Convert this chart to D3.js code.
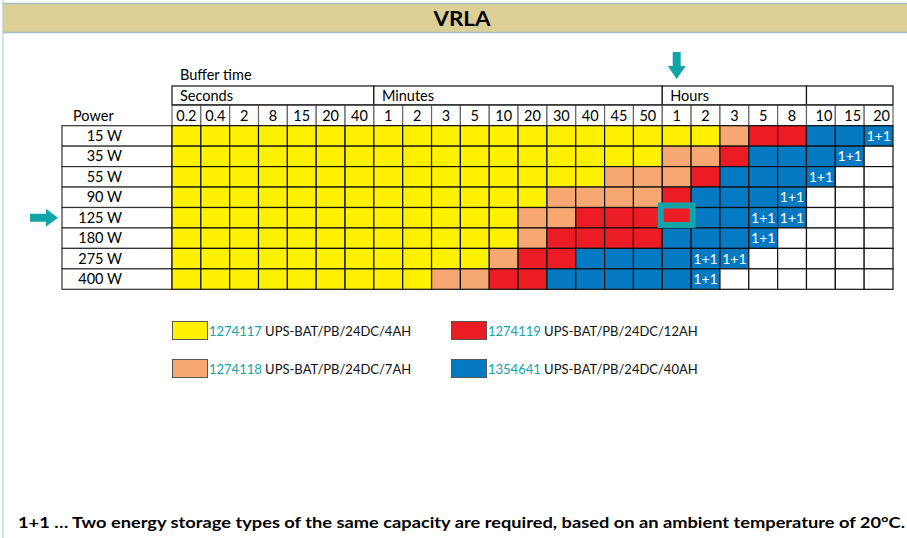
<!DOCTYPE html>
<html>
<head>
<meta charset="utf-8">
<script src="https://cdn.jsdelivr.net/npm/d3@7"></script>
<style>
  body { margin: 0; background: #fff; }
  svg { display: block; font-family: Lato, "Open Sans", sans-serif; }
</style>
</head>
<body>
<div id="chart"></div>
<script>
// battery selection table
const powers = ['15 W', '35 W', '55 W', '90 W', '125 W', '180 W', '275 W', '400 W'];
const groupNames = ['Seconds', 'Minutes', 'Hours', ''];
const groupSizes = [7, 10, 5, 3];
const times = ['0.2', '0.4', '2', '8', '15', '20', '40',
    '1', '2', '3', '5', '10', '20', '30', '40', '45', '50',
    '1', '2', '3', '5', '8',
    '10', '15', '20'];
// Y = 4AH, O = 7AH, R = 12AH, B = 40AH, D = 40AH 1+1, - = none
const cells = [
    'YYYYYYY' + 'YYYYYYYYYY' + 'YYORR' + 'BBD',
    'YYYYYYY' + 'YYYYYYYYYY' + 'OORBB' + 'BD-',
    'YYYYYYY' + 'YYYYYYYYOO' + 'ORBBB' + 'D--',
    'YYYYYYY' + 'YYYYYYOOOO' + 'RBBBD' + '---',
    'YYYYYYY' + 'YYYYYOORRR' + 'RBBDD' + '---',
    'YYYYYYY' + 'YYYYYORRRR' + 'BBBD-' + '---',
    'YYYYYYY' + 'YYYYORRBBB' + 'BDD--' + '---',
    'YYYYYYY' + 'YYOORRBBBB' + 'BD---' + '---'
];
const selectedRow = '125 W';
const selectedCol = 17;

const legendCodes = ['Y', 'R', 'O', 'B'];
const legendNumbers = ['1274117', '1274119', '1274118', '1354641'];
const legendNames = ['UPS-BAT/PB/24DC/4AH', 'UPS-BAT/PB/24DC/12AH', 'UPS-BAT/PB/24DC/7AH', 'UPS-BAT/PB/24DC/40AH'];

const colors = { Y: '#FFF100', O: '#F7A872', R: '#EC1C24', B: '#0579C1', D: '#0579C1', '-': '#ffffff' };
const teal = '#12A5A8';

const W = 907, H = 538;
const svg = d3.select('#chart').append('svg')
    .attr('width', W).attr('height', H);

// page frame + title band
svg.append('rect').attr('x', 3).attr('y', 3).attr('width', W - 3).attr('height', 30)
    .attr('fill', '#DDD096');
svg.append('line').attr('x1', 3).attr('x2', W).attr('y1', 3.5).attr('y2', 3.5)
    .attr('stroke', '#9EBCC2').attr('stroke-width', 1.5);
svg.append('line').attr('x1', 3).attr('x2', W).attr('y1', 32.5).attr('y2', 32.5)
    .attr('stroke', '#9EBCC2').attr('stroke-width', 1.5);
svg.append('line').attr('x1', 3).attr('x2', 3).attr('y1', 0).attr('y2', H)
    .attr('stroke', '#B8CDD3').attr('stroke-width', 1.2);
svg.append('text').attr('x', 462).attr('y', 26)
    .attr('text-anchor', 'middle')
    .attr('font-size', 21).attr('font-weight', 'bold')
    .attr('textLength', 57).attr('lengthAdjust', 'spacingAndGlyphs')
    .text('VRLA');

// scales
const x = d3.scaleBand().domain(d3.range(times.length)).range([172, 893]);
const y = d3.scaleBand().domain(powers).range([125.7, 289.3]);
const groupTop = 86, labelTop = 105;

// group headers (Seconds / Minutes / Hours)
let start = 0;
const groups = groupNames.map((name, i) => {
    const g = { name: name, start: start, end: start + groupSizes[i] - 1 };
    start += groupSizes[i];
    return g;
});
const gh = svg.append('g');
gh.selectAll('rect').data(groups).enter().append('rect')
    .attr('x', d => x(d.start))
    .attr('y', groupTop)
    .attr('width', d => x(d.end) + x.bandwidth() - x(d.start))
    .attr('height', labelTop - groupTop)
    .attr('fill', '#fff').attr('stroke', '#111').attr('stroke-width', 1.2);
gh.selectAll('text').data(groups).enter().append('text')
    .attr('x', d => x(d.start) + 8)
    .attr('y', labelTop - 4)
    .attr('font-size', 14.5)
    .text(d => d.name);
svg.append('text').attr('x', 180).attr('y', 80).attr('font-size', 14.5).text('Buffer time');

// column labels
const groupOf = i => groups.findIndex(g => i >= g.start && i <= g.end);
const ch = svg.append('g');
ch.selectAll('rect').data(times).enter().append('rect')
    .attr('x', (d, i) => x(i)).attr('y', labelTop)
    .attr('width', x.bandwidth()).attr('height', y.range()[0] - labelTop)
    .attr('fill', '#fff').attr('stroke', '#666').attr('stroke-width', 1.2);
ch.selectAll('text').data(times).enter().append('text')
    .attr('x', (d, i) => groupOf(i) === 3 ? x(i) + x.bandwidth() - 3 : x(i) + x.bandwidth() / 2)
    .attr('y', labelTop + 15.5)
    .attr('text-anchor', (d, i) => groupOf(i) === 3 ? 'end' : 'middle')
    .attr('font-size', 14.5)
    .text(d => d);
svg.append('line').attr('x1', 172).attr('x2', 893)
    .attr('y1', labelTop).attr('y2', labelTop).attr('stroke', '#111').attr('stroke-width', 1.2);

// power column
svg.append('text').attr('x', 73).attr('y', 121).attr('font-size', 14.5).text('Power');
const pc = svg.append('g');
pc.selectAll('rect').data(powers).enter().append('rect')
    .attr('x', 62).attr('y', d => y(d))
    .attr('width', 172 - 62).attr('height', y.bandwidth())
    .attr('fill', '#fff').attr('stroke', '#333').attr('stroke-width', 1.2);
pc.selectAll('text').data(powers).enter().append('text')
    .attr('x', 122).attr('y', d => y(d) + y.bandwidth() / 2 + 5)
    .attr('text-anchor', 'end').attr('font-size', 14.5)
    .text(d => d);

// cells
const cellData = [];
powers.forEach((p, r) => {
    cells[r].split('').forEach((c, i) => cellData.push({ power: p, col: i, code: c }));
});
const grid = svg.append('g');
grid.selectAll('rect').data(cellData).enter().append('rect')
    .attr('x', d => x(d.col)).attr('y', d => y(d.power))
    .attr('width', x.bandwidth()).attr('height', y.bandwidth())
    .attr('fill', d => colors[d.code])
    .attr('stroke', '#111').attr('stroke-width', 1.2);
grid.selectAll('text').data(cellData.filter(d => d.code === 'D')).enter().append('text')
    .attr('x', d => x(d.col) + x.bandwidth() / 2)
    .attr('y', d => y(d.power) + y.bandwidth() / 2 + 5)
    .attr('text-anchor', 'middle').attr('font-size', 14)
    .attr('fill', '#fff')
    .text('1+1');

// highlighted cell
svg.append('rect')
    .attr('x', x(selectedCol) - 1.5).attr('y', y(selectedRow) - 2)
    .attr('width', x.bandwidth() + 3).attr('height', y.bandwidth() - 1)
    .attr('fill', colors.R).attr('stroke', teal).attr('stroke-width', 6);

// arrows
const ay = y(selectedRow) + y.bandwidth() / 2;
svg.append('path')
    .attr('d', `M30,${ay - 4}H46V${ay - 9}L58,${ay}L46,${ay + 9}V${ay + 4}H30Z`)
    .attr('fill', teal);
const ax = x(selectedCol) + x.bandwidth() / 2;
svg.append('path')
    .attr('d', `M${ax - 4},52V66H${ax - 9}L${ax},79L${ax + 9},66H${ax + 4}V52Z`)
    .attr('fill', teal);

// legend
const legendX = [172, 451], legendY = [321, 359];
const lg = svg.append('g').selectAll('g').data(legendCodes).enter().append('g')
    .attr('transform', (d, i) => `translate(${legendX[i % 2]},${legendY[Math.floor(i / 2)]})`);
lg.append('rect').attr('x', 0.5).attr('y', 0.5).attr('width', 35).attr('height', 18)
    .attr('fill', d => colors[d]).attr('stroke', '#555').attr('stroke-width', 1);
const lt = lg.append('text').attr('x', 37).attr('y', 15).attr('font-size', 13);
lt.append('tspan').attr('fill', teal).text((d, i) => legendNumbers[i]);
lt.append('tspan').attr('fill', '#111').text((d, i) => ' ' + legendNames[i]);

// footnote
svg.append('text').attr('x', 18).attr('y', 528)
    .attr('font-size', 15.5).attr('font-weight', 'bold')
    .attr('textLength', 887).attr('lengthAdjust', 'spacingAndGlyphs')
    .text('1+1 … Two energy storage types of the same capacity are required, based on an ambient temperature of 20°C.');
</script>
</body>
</html>
